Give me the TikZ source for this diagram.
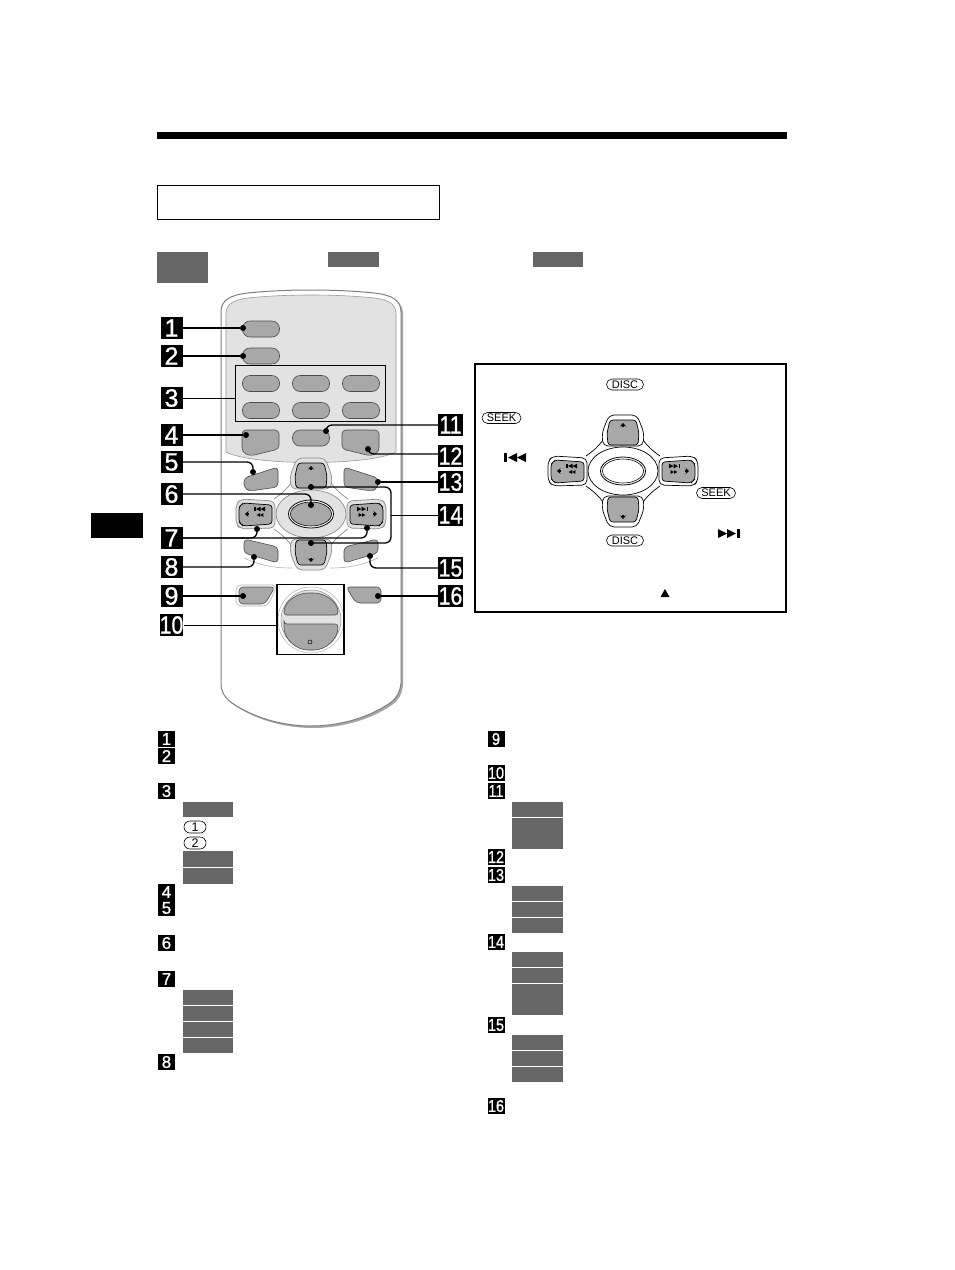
\documentclass[tikz,border=0pt]{standalone}
\usepackage{fontspec}
\setmainfont{Liberation Sans}
\newfontfamily\tagfont[RawFeature={embolden=1}]{Liberation Sans}
\usetikzlibrary{arrows.meta}
\definecolor{bargray}{HTML}{666666}
\definecolor{btngray}{HTML}{A8A8A8}
\definecolor{panelgray}{HTML}{E2E2E2}
\tikzset{
	numbox/.style={fill=black,text=white,minimum width=22pt,minimum height=22pt,inner sep=0pt,font=\fontsize{25}{25}\selectfont\tagfont},
	numboxw/.style={numbox,minimum width=25pt},
	smallnum/.style={fill=black,text=white,minimum width=17pt,minimum height=16pt,inner sep=0pt,font=\fontsize{17}{17}\selectfont\tagfont},
	bar/.style={fill=bargray},
	btn/.style={draw=black!70,line width=.6pt,fill=btngray,rounded corners=7.5pt,minimum width=37pt,minimum height=16pt,inner sep=0pt},
	btnshape/.style={draw=black!70,line width=.6pt,fill=btngray,rounded corners=4pt},
	lead/.style={line width=1.3pt,rounded corners=6pt},
	tgt/.style={circle,fill=black,minimum size=6pt,inner sep=0pt},
	pill/.style={draw,line width=.6pt,fill=white,rounded corners=5.5pt,minimum width=37pt,minimum height=11pt,inner sep=0pt,font=\fontsize{11}{11}\selectfont},
	smallpill/.style={pill,minimum width=22pt,minimum height=12pt,rounded corners=6pt,font=\fontsize{12.5}{12.5}\selectfont},
	nexticon/.pic={
		\fill (-11,-4.5)--(-2,0)--(-11,4.5)--cycle;
		\fill (-2,-4.5)--(7,0)--(-2,4.5)--cycle;
		\fill (8,-4.5) rectangle (11,4.5);
	},
	ffwdicon/.pic={
		\fill (-8,-4.5)--(0,0)--(-8,4.5)--cycle;
		\fill (0,-4.5)--(8,0)--(0,4.5)--cycle;
	}
}
% cross of four keys round an oval: centre, ring fill, line colour, oval fill, halo fill
\newcommand{\dpadfig}[6]{
	\begin{scope}[shift={(#1,#2)}]
		\draw[#4,line width=.7pt,fill=#3] (0,0) ellipse (35 and 24);
		\foreach \sx in {1,-1}
			\foreach \sy in {1,-1}
				\draw[#4,line width=.7pt,xscale=\sx,yscale=\sy] (20,-31) .. controls (25,-24) and (30,-20) .. (37,-15);
		\foreach \sy in {1,-1}{
			\begin{scope}[yscale=\sy]
				\draw[#4,line width=.7pt,fill=#6,rounded corners=5pt] (-14,-56)--(14,-56)--(21,-38)--(20,-25)--(-20,-25)--(-21,-38)--cycle;
				\draw[black,line width=.7pt,fill=btngray,rounded corners=3pt] (-13,-51)--(13,-51)--(16,-38)--(15,-26)--(-15,-26)--(-16,-38)--cycle;
				\draw[-{Stealth[length=3.5pt,width=6pt]},line width=1.2pt] (0,-44)--(0,-48);
			\end{scope}
		}
		\foreach \sx in {1,-1}{
			\begin{scope}[xscale=\sx]
				\draw[#4,line width=.7pt,fill=#6,rounded corners=5pt] (36,-13)--(70,-15)--(75,-10)--(75,10)--(70,15)--(36,14)--cycle;
				\draw[black,line width=.7pt,fill=btngray,rounded corners=3pt] (39,-9)--(68,-11)--(72,-7)--(72,8)--(68,12)--(39,10)--cycle;
				\draw[-{Stealth[length=3.5pt,width=6pt]},line width=1.2pt] (62,0)--(66,0);
				\pic[transform shape,scale=.5] at (51.5,-5) {nexticon};
				\pic[transform shape,scale=.42] at (51,1) {ffwdicon};
			\end{scope}
		}
		\draw[black,line width=.8pt,fill=white] (0,0) ellipse (22.5 and 14);
		\draw[black,line width=.6pt,fill=#5] (0,0) ellipse (20.5 and 12);
	\end{scope}
}
\begin{document}
\begin{tikzpicture}[x=1pt,y=-1pt]
	\useasboundingbox (0,0) rectangle (954,1270);
	% page furniture
	\fill (157,132) rectangle (787,139);
	\fill (91,513) rectangle (143,538);
	\draw[line width=1pt] (157.5,185.5) rectangle (439.5,219);
	\fill[bar] (157,252) rectangle (208,283);
	\fill[bar] (328,252) rectangle (379,267);
	\fill[bar] (533,252) rectangle (583,267);

	% remote body
	\path[fill=black!35] (223,314) .. controls (223,302) and (232,297) .. (250,295) .. controls (287,291) and (339,291) .. (376,295) .. controls (394,297) and (403,302) .. (403,314) -- (403,685) .. controls (402,694) and (399,700) .. (392,705) .. controls (367,722) and (337,728) .. (313,728) .. controls (289,728) and (259,722) .. (234,705) .. controls (227,700) and (223,694) .. (223,685) -- cycle;
	\draw[black!50,line width=1pt,fill=white] (221,312) .. controls (221,300) and (230,295) .. (248,293) .. controls (285,289) and (337,289) .. (374,293) .. controls (392,295) and (401,300) .. (401,312) -- (401,683) .. controls (400,692) and (397,698) .. (390,703) .. controls (365,720) and (335,726) .. (311,726) .. controls (287,726) and (257,720) .. (232,703) .. controls (225,698) and (221,692) .. (221,683) -- cycle;
	\draw[black!40,line width=.6pt,fill=panelgray] (226,314) .. controls (226,304) and (233,300) .. (248,298) .. controls (285,294) and (337,294) .. (374,298) .. controls (389,300) and (396,304) .. (396,314) -- (396,452) .. controls (370,466) and (252,466) .. (226,452) -- cycle;
	\draw[black!30,line width=.6pt] (244,558) .. controls (262,566) and (275,568) .. (292,568) (378,558) .. controls (360,566) and (347,568) .. (330,568);

	% keys
	\node[btn] (key1) at (261,329) {};
	\node[btn] (key2) at (261,356) {};
	\foreach \kx in {261,311,361}{
		\node[btn] at (\kx,383.5) {};
		\node[btn] at (\kx,410.5) {};
	}
	\node[btn] (key11) at (311,438) {};
	\draw[btnshape] (242,430)--(279,430)--(279,449)--(250,456)--(242,452)--cycle;
	\draw[btnshape] (342,430)--(379,430)--(379,452)--(371,456)--(342,449)--cycle;
	\draw[btnshape] (244,478)--(278,467)--(278,487)--(250,491)--(244,488)--cycle;
	\draw[btnshape] (378,478)--(344,467)--(344,487)--(372,491)--(378,488)--cycle;
	\draw[btnshape] (244,539)--(278,547)--(278,563)--(244,553)--cycle;
	\draw[btnshape] (378,539)--(344,547)--(344,563)--(378,553)--cycle;
	\dpadfig{311}{514}{panelgray}{black!45}{btngray}{black!12}

	% bottom keys and dial
	\draw[black!30,line width=.6pt,rounded corners=5pt] (236,585)--(277,585)--(268,606)--(236,606)--cycle;
	\draw[btnshape] (239,587)--(275,587)--(265,604)--(239,604)--cycle;
	\draw[btnshape] (346,587)--(381,587)--(381,603)--(356,603)--cycle;
	\draw[black!30,line width=.5pt,fill=white] (311,620) circle (33);
	\draw[black!45,line width=.5pt,fill=panelgray] (311,620) circle (30);
	\draw[black!70,line width=.6pt,fill=btngray,rounded corners=3pt] (284,615) .. controls (284,601) and (298,593) .. (311,593) .. controls (324,593) and (338,601) .. (338,615) -- cycle;
	\draw[black!70,line width=.6pt,fill=btngray,rounded corners=3pt] (284,624) -- (338,624) .. controls (338,640) and (325,650) .. (311,650) .. controls (297,650) and (284,640) .. (284,624) -- cycle;
	\draw[line width=.5pt] (310,642) circle (2);

	% frames on the remote
	\node[draw,line width=1.5pt,minimum width=150pt,minimum height=56pt,inner sep=0pt] (box3) at (310.5,393.5) {};
	\node[draw,line width=1.5pt,minimum width=67pt,minimum height=70pt,inner sep=0pt] (box10) at (310.5,619.5) {};

	% number tags
	\node[numbox] (n1) at (171.5,328) {1};
	\node[numbox] (n2) at (171.5,356) {2};
	\node[numbox] (n3) at (171.5,398) {3};
	\node[numbox] (n4) at (171.5,435) {4};
	\node[numbox] (n5) at (171.5,462) {5};
	\node[numbox] (n6) at (171.5,494) {6};
	\node[numbox] (n7) at (171.5,538) {7};
	\node[numbox] (n8) at (171.5,567) {8};
	\node[numbox] (n9) at (171.5,596) {9};
	\node[numbox] (n10) at (171.5,625) {\scalebox{.85}[1]{10}};
	\node[numboxw] (n11) at (450.5,425) {\scalebox{.85}[1]{11}};
	\node[numboxw] (n12) at (450.5,456) {\scalebox{.85}[1]{12}};
	\node[numboxw] (n13) at (450.5,482) {\scalebox{.85}[1]{13}};
	\node[numboxw] (n14) at (450.5,515) {\scalebox{.85}[1]{14}};
	\node[numboxw] (n15) at (450.5,568) {\scalebox{.85}[1]{15}};
	\node[numboxw] (n16) at (450.5,596) {\scalebox{.85}[1]{16}};

	% target dots
	\node[tgt] (d1) at (243,328) {};
	\node[tgt] (d2) at (243,356) {};
	\node[tgt] (d4) at (246,435) {};
	\node[tgt] (d5) at (253,472) {};
	\node[tgt] (d6) at (311,505) {};
	\node[tgt] (d7a) at (257,529) {};
	\node[tgt] (d7b) at (367,528) {};
	\node[tgt] (d8) at (254,557) {};
	\node[tgt] (d9) at (243,596) {};
	\node[tgt] (d11) at (326,431) {};
	\node[tgt] (d12) at (368,449) {};
	\node[tgt] (d13) at (378,482) {};
	\node[tgt] (d14a) at (311,487) {};
	\node[tgt] (d14b) at (311,543) {};
	\node[tgt] (d15) at (370,556) {};
	\node[tgt] (d16) at (378,596) {};
	\coordinate (b14) at (391,515);

	% leaders
	\draw[lead] (n1)--(d1);
	\draw[lead] (n2)--(d2);
	\draw[line width=.8pt] (n3)--(box3.west|-n3);
	\draw[lead] (n4)--(d4);
	\draw[lead] (n5)-|(d5);
	\draw[lead] (n6)-|(d6);
	\draw[lead] (n7)-|(d7a);
	\draw[lead] (n7)-|(d7b);
	\draw[lead] (n8)-|(d8);
	\draw[lead] (n9)--(d9);
	\draw[line width=.8pt] (n10)--(box10.west|-n10);
	\draw[lead] (n11)-|(d11);
	\draw[lead] ([yshift=2pt]n12.west)-|(d12);
	\draw[lead] (n13)--(d13);
	\draw[lead] (d14a)-|(b14)|-(d14b);
	\draw[line width=.8pt] (n14)--(b14);
	\draw[lead] (n15)-|(d15);
	\draw[lead] (n16)--(d16);

	% inset
	\draw[line width=2pt] (474.5,364) rectangle (786,612);
	\dpadfig{623}{471}{white}{black}{white}{white}
	\node[pill] (disc1) at (625,384.5) {DISC};
	\node[pill] (disc2) at (625,540.5) {DISC};
	\node[pill,minimum width=39pt] (seek1) at (501.5,418) {SEEK};
	\node[pill,minimum width=39pt] (seek2) at (716,493) {SEEK};
	\pic[xscale=-1] at (515,457.5) {nexticon};
	\pic at (729,533.5) {nexticon};
	\fill (660.5,597)--(665,589)--(669.5,597)--cycle;

	% list tags, left column
	\foreach \ly/\lt in {739/1,756/2,791/3,892/4,908/5,943/6,979/7,1062/8}
		\node[smallnum] at (166.5,\ly) {\lt};
	\foreach \ya/\yb in {802/817,851/867,868/884,990/1005,1006/1021,1022/1037,1038/1053}
		\fill[bar] (183,\ya) rectangle (233,\yb);
	\node[smallpill] (one) at (195,827) {1};
	\node[smallpill] (two) at (195,843) {2};

	% list tags, right column
	\foreach \ly/\lt in {739/9,773/10,791/11,857/12,875/13,942/14,1025/15,1106/16}
		\node[smallnum] at (496,\ly) {\scalebox{.85}[1]{\lt}};
	\foreach \ya/\yb in {802/817,818/849,886/901,902/917,918/933,952/967,968/983,984/1015,1035/1050,1051/1066,1067/1082}
		\fill[bar] (512,\ya) rectangle (563,\yb);
\end{tikzpicture}
\end{document}
